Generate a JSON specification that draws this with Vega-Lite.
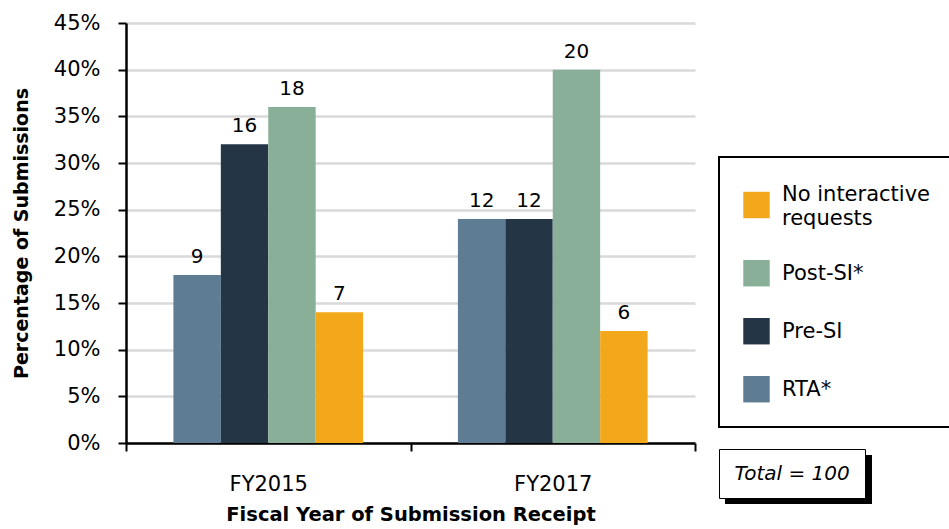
{
  "$schema": "https://vega.github.io/schema/vega-lite/v6.json",
  "width": 569,
  "height": 420,
  "autosize": "none",
  "padding": {"left": 126, "top": 23, "right": 254, "bottom": 86},
  "background": "white",
  "config": {
    "font": "DejaVu Sans",
    "view": {"stroke": null},
    "axis": {"labelFont": "DejaVu Sans", "titleFont": "DejaVu Sans", "labelColor": "#000000", "titleColor": "#000000"},
    "legend": {"labelFont": "DejaVu Sans"}
  },
  "datasets": {
    "bars": [
      {"year": "FY2015", "type": "RTA*", "pct": 0.18, "count": 9},
      {"year": "FY2015", "type": "Pre-SI", "pct": 0.32, "count": 16},
      {"year": "FY2015", "type": "Post-SI*", "pct": 0.36, "count": 18},
      {"year": "FY2015", "type": "No interactive requests", "pct": 0.14, "count": 7},
      {"year": "FY2017", "type": "RTA*", "pct": 0.24, "count": 12},
      {"year": "FY2017", "type": "Pre-SI", "pct": 0.24, "count": 12},
      {"year": "FY2017", "type": "Post-SI*", "pct": 0.40, "count": 20},
      {"year": "FY2017", "type": "No interactive requests", "pct": 0.12, "count": 6}
    ],
    "note": [
      {"year": "FY2015", "pct": 0, "note": "Total = 100", "shadow": "shadow"}
    ]
  },
  "layer": [
    {
      "data": {"name": "bars"},
      "mark": {"type": "bar"},
      "encoding": {
        "x": {
          "field": "year", "type": "nominal",
          "scale": {"paddingInner": 0, "paddingOuter": 0},
          "axis": {
            "title": "Fiscal Year of Submission Receipt",
            "titleFontSize": 19.5, "titleFontWeight": "bold", "titlePadding": 11,
            "labelAngle": 0, "labelFontSize": 21, "labelPadding": 22,
            "tickBand": "extent", "tickSize": 8, "tickColor": "#000000", "tickWidth": 2,
            "domainColor": "#000000", "domainWidth": 2.5, "grid": false
          }
        },
        "xOffset": {
          "field": "type", "type": "nominal",
          "sort": ["RTA*", "Pre-SI", "Post-SI*", "No interactive requests"],
          "scale": {"paddingInner": 0, "paddingOuter": 1}
        },
        "y": {
          "field": "pct", "type": "quantitative",
          "scale": {"domain": [0, 0.45]},
          "axis": {
            "title": "Percentage of Submissions",
            "titleFontSize": 19, "titleFontWeight": "bold", "titlePadding": 22,
            "format": ".0%", "values": [0, 0.05, 0.1, 0.15, 0.2, 0.25, 0.3, 0.35, 0.4, 0.45],
            "labelFontSize": 21, "labelPadding": 18,
            "tickSize": 8, "tickColor": "#000000", "tickWidth": 2,
            "domainColor": "#000000", "domainWidth": 2.5,
            "grid": true, "gridColor": "#D9D9D9", "gridWidth": 2.5
          }
        },
        "color": {
          "field": "type", "type": "nominal",
          "sort": ["No interactive requests", "Post-SI*", "Pre-SI", "RTA*"],
          "scale": {
            "domain": ["No interactive requests", "Post-SI*", "Pre-SI", "RTA*"],
            "range": ["#F3A81C", "#89AF98", "#243546", "#5E7D95"]
          },
          "legend": {
            "title": null,
            "orient": "none", "legendX": 593, "legendY": 134,
            "direction": "vertical",
            "strokeColor": "#000000", "fillColor": "#FFFFFF",
            "padding": 24,
            "symbolType": "square", "symbolSize": 700, "symbolStrokeWidth": 0, "symbolOpacity": 1,
            "labelFontSize": 21, "labelColor": "#000000", "labelOffset": 12, "labelLimit": 400,
            "rowPadding": 30,
            "labelExpr": "datum.label == 'No interactive requests' ? ['No interactive', 'requests'] : datum.label",
            "encode": {
              "legend": {"update": {"strokeWidth": {"value": 2}}},
              "labels": {"update": {"lineHeight": {"value": 24}}},
              "symbols": {"update": {"y": {"signal": "datum.value === 'No interactive requests' ? 24 : 13.2"}}}
            }
          }
        }
      }
    },
    {
      "data": {"name": "bars"},
      "mark": {"type": "text", "baseline": "bottom", "dy": -8, "fontSize": 20, "color": "#000000", "font": "DejaVu Sans"},
      "encoding": {
        "x": {"field": "year", "type": "nominal"},
        "xOffset": {"field": "type", "type": "nominal", "sort": ["RTA*", "Pre-SI", "Post-SI*", "No interactive requests"]},
        "y": {"field": "pct", "type": "quantitative"},
        "text": {"field": "count", "type": "quantitative"}
      }
    },
    {
      "data": {"name": "note"},
      "mark": {"type": "point", "filled": true, "color": "#000000", "size": 0},
      "encoding": {
        "x": {"field": "year", "type": "nominal"},
        "y": {"field": "pct", "type": "quantitative"},
        "shape": {
          "field": "shadow", "type": "nominal",
          "scale": {"range": ["M-1,-0.3333H1V0.3333H-1Z"]},
          "legend": {
            "title": null, "orient": "none", "legendX": 598, "legendY": 382,
            "padding": 0, "symbolSize": 21609, "labelOffset": 0,
            "symbolFillColor": "#000000", "symbolStrokeColor": "#000000", "symbolOpacity": 1,
            "labelExpr": "''",
            "encode": {
              "symbols": {"update": {
                "size": {"value": 21609}, "fill": {"value": "#000000"}, "stroke": {"value": "#000000"},
                "strokeWidth": {"value": 0}, "opacity": {"value": 1}, "fillOpacity": {"value": 1},
                "shape": {"value": "M-1,-0.3333H1V0.3333H-1Z"}
              }}
            }
          }
        },
        "strokeDash": {
          "field": "note", "type": "nominal",
          "legend": {
            "title": null, "orient": "none", "legendX": 593, "legendY": 426,
            "strokeColor": "#000000", "fillColor": "#FFFFFF",
            "padding": 14.5, "symbolSize": 0, "symbolOpacity": 0, "labelOffset": -19,
            "labelFontSize": 20, "labelFontStyle": "italic", "labelColor": "#000000",
            "encode": {"legend": {"update": {"strokeWidth": {"value": 2}}}}
          }
        }
      }
    }
  ]
}
